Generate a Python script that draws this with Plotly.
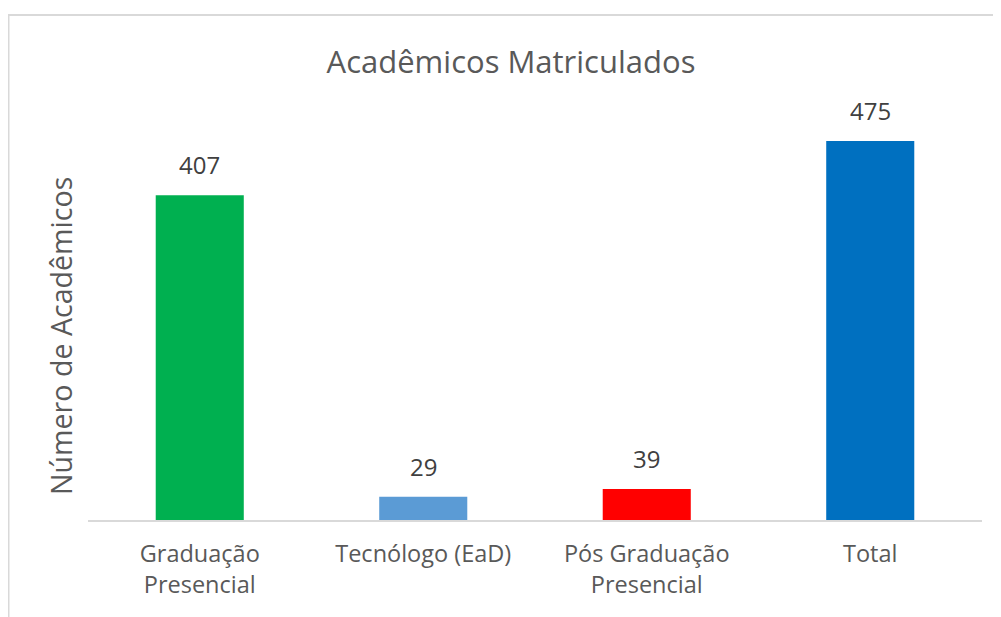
import plotly.graph_objects as go

categories = ["Graduação Presencial", "Tecnólogo (EaD)", "Pós Graduação Presencial", "Total"]
tick_labels = ["Graduação<br>Presencial", "Tecnólogo (EaD)", "Pós Graduação<br>Presencial", "Total"]
values = [407, 29, 39, 475]
colors = ["#00B050", "#5B9BD5", "#FF0000", "#0070C0"]

FONT = "Open Sans"
OFF = 8  # page body margin
W, H = 1001 - OFF, 617 - OFF
ml, mr, mt, mb = 88 - OFF, 19, 121 - OFF, 97
pw, ph = W - ml - mr, H - mt - mb


def px_x(px):
    return (px - OFF - ml) / pw


def px_y(py):
    return (H - mb - (py - OFF)) / ph


fig = go.Figure()
fig.add_trace(go.Bar(
    x=categories, y=values, marker=dict(color=colors, line=dict(width=0)),
    hoverinfo="x+y",
))

for c, v in zip(categories, values):
    fig.add_annotation(x=c, y=v, text=str(v), showarrow=False, yanchor="bottom",
                       yshift=12, font=dict(family=FONT, size=24, color="#404040"))

# y-axis title
fig.add_annotation(text="Número de Acadêmicos", xref="paper", yref="paper",
                   x=px_x(60), y=px_y(336), xanchor="center", yanchor="middle",
                   textangle=-90, showarrow=False,
                   font=dict(family=FONT, size=28.6, color="#595959"))

border = "#D9D9D9"
fig.add_shape(type="line", xref="paper", yref="paper", x0=px_x(4), x1=px_x(1001),
              y0=px_y(15), y1=px_y(15), line=dict(color=border, width=2))
fig.add_shape(type="line", xref="paper", yref="paper", x0=px_x(8.5), x1=px_x(8.5),
              y0=px_y(15), y1=px_y(617), line=dict(color=border, width=2))

fig.update_layout(
    width=W, height=H,
    margin=dict(l=ml, r=mr, t=mt, b=mb),
    paper_bgcolor="white", plot_bgcolor="white",
    bargap=0.606,
    showlegend=False,
    title=dict(text="Acadêmicos Matriculados", x=(511 - OFF) / W, xanchor="center",
               y=1 - (62 - OFF) / H, yanchor="middle",
               font=dict(family=FONT, size=31, color="#595959")),
    xaxis=dict(
        tickmode="array", tickvals=categories, ticktext=tick_labels,
        showline=True, linecolor=border, linewidth=1.5,
        ticks="", showgrid=False, zeroline=False,
        tickfont=dict(family=FONT, size=23.5, color="#595959"),
        ticklabelstandoff=12,
    ),
    yaxis=dict(
        range=[0, 500], showticklabels=False, showgrid=False, zeroline=False,
        showline=False, ticks="",
    ),
)

fig.write_html("out.html")
